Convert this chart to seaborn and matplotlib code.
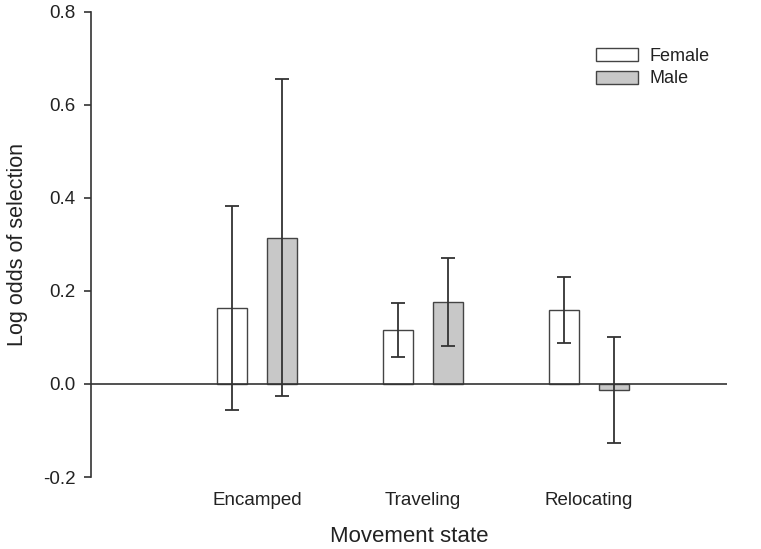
import pandas as pd
import matplotlib
matplotlib.use("Agg")
import matplotlib.pyplot as plt
import matplotlib.ticker as mticker
import seaborn as sns

# values
states = ["Encamped", "Traveling", "Relocating"]
female_mean = [0.163, 0.115, 0.159]
female_low = [-0.056, 0.057, 0.087]
female_high = [0.383, 0.174, 0.229]
male_mean = [0.313, 0.176, -0.013]
male_low = [-0.026, 0.081, -0.127]
male_high = [0.654, 0.271, 0.101]

df = pd.DataFrame({
    "state": states * 2,
    "sex": ["Female"] * 3 + ["Male"] * 3,
    "value": female_mean + male_mean,
    "low": female_low + male_low,
    "high": female_high + male_high,
})

sns.set_style("ticks")
plt.rcParams["font.family"] = ["Liberation Sans", "DejaVu Sans"]
plt.rcParams["axes.unicode_minus"] = False

fig = plt.figure(figsize=(7.61, 5.49), dpi=100)
ax = fig.add_axes([0.1196, 0.1311, 0.955 - 0.1196, 0.979 - 0.1311])

sns.barplot(data=df, x="state", y="value", hue="sex", order=states,
            hue_order=["Female", "Male"],
            palette={"Female": "white", "Male": "#c8c8c8"},
            edgecolor="#444444", linewidth=1.0, width=0.6, gap=0.4,
            errorbar=None, ax=ax)

# error bars from the read-off limits
for cont, sex in zip(ax.containers, ["Female", "Male"]):
    sub = df[df["sex"] == sex].set_index("state").loc[states]
    xs = [b.get_x() + b.get_width() / 2 for b in cont]
    yerr = [sub["value"] - sub["low"], sub["high"] - sub["value"]]
    ax.errorbar(xs, sub["value"], yerr=yerr, fmt="none", ecolor="#333333",
                elinewidth=1.3, capsize=5, capthick=1.3, zorder=5)

ax.axhline(0, color="#333333", lw=1.2, zorder=4)

ax.set_ylim(-0.2, 0.8)
ax.set_xlim(-1.0, 2.83)
ax.yaxis.set_major_locator(mticker.MultipleLocator(0.2))
ax.yaxis.set_major_formatter(mticker.FormatStrFormatter("%.1f"))
for s in ["top", "right", "bottom"]:
    ax.spines[s].set_visible(False)
ax.spines["left"].set_color("#333333")
ax.spines["left"].set_linewidth(1.2)
ax.tick_params(axis="y", length=5, width=1.2, color="#333333",
               labelsize=13.5, labelcolor="#222222", pad=6)
ax.tick_params(axis="x", length=0, labelsize=13.5, labelcolor="#222222", pad=11)

ax.set_xlabel("Movement state", fontsize=16, color="#222222", labelpad=12)
ax.set_ylabel("Log odds of selection", fontsize=15.5, color="#222222", labelpad=11)

handles, labels = ax.get_legend_handles_labels()
leg = ax.legend(handles, labels, loc="upper left", bbox_to_anchor=(596 / 761, 1 - 48 / 549),
                bbox_transform=fig.transFigure, frameon=False, fontsize=13,
                handlelength=2.3, handleheight=0.72, handletextpad=0.65,
                labelspacing=0.3, borderpad=0, borderaxespad=0)
for t in leg.get_texts():
    t.set_color("#222222")

fig.savefig("out.png", dpi=100)
